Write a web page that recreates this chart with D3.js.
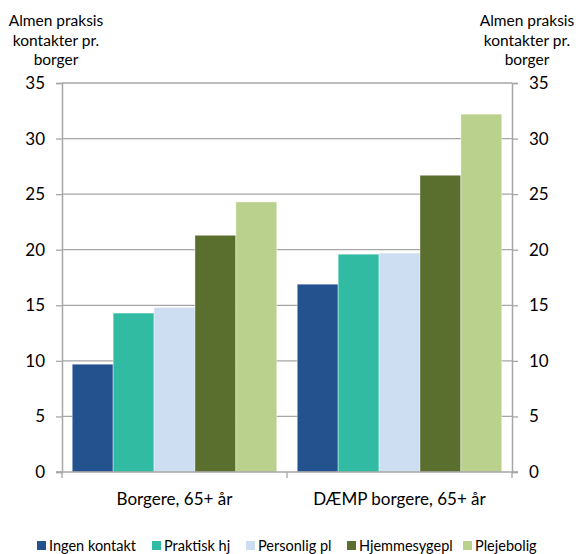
<!DOCTYPE html>
<html>
<head>
<meta charset="utf-8">
<script src="https://cdn.jsdelivr.net/npm/d3@7"></script>
<style>
  html, body { margin: 0; padding: 0; background: #fff; }
  svg { display: block; font-family: Lato, "Open Sans", sans-serif; }
</style>
</head>
<body>
<svg id="chart" width="576" height="554"></svg>
<script>
// Groups along the x axis
const categories = ["Borgere, 65+ år", "DÆMP borgere, 65+ år"];
// Series (one bar per group each)
const seriesNames = ["Ingen kontakt", "Praktisk hj", "Personlig pl", "Hjemmesygepl", "Plejebolig"];
const seriesColors = ["#24528E", "#31BBA3", "#CDDDF2", "#5A6E2E", "#BAD18D"];
// Contacts per citizen, indexed [series][category]
const ingenKontakt = [9.7, 16.9];
const praktiskHj = [14.3, 19.6];
const personligPl = [14.8, 19.7];
const hjemmesygepl = [21.3, 26.7];
const plejebolig = [24.3, 32.2];
const seriesValues = [ingenKontakt, praktiskHj, personligPl, hjemmesygepl, plejebolig];
const yTicks = [0, 5, 10, 15, 20, 25, 30, 35];
const axisTitle = ["Almen praksis", "kontakter pr.", "borger"];

const svg = d3.select("#chart");
const plot = { left: 62, right: 512, top: 83, bottom: 472 };

const x0 = d3.scaleBand().domain(categories).range([plot.left, plot.right]).padding(0);
const x1 = d3.scaleBand().domain(seriesNames)
  .range([0, x0.bandwidth()]).paddingInner(0).paddingOuter(0.25);
const y = d3.scaleLinear().domain([0, 35]).range([plot.bottom, plot.top]);

const gridColor = "#a6a6a6";

// Horizontal gridlines
svg.append("g").selectAll("line").data(yTicks.filter(t => t > 0)).join("line")
  .attr("x1", plot.left).attr("x2", plot.right)
  .attr("y1", d => y(d)).attr("y2", d => y(d))
  .attr("stroke", gridColor).attr("stroke-width", 1.3);

// Bars
const groups = svg.append("g").selectAll("g").data(categories).join("g")
  .attr("transform", d => `translate(${x0(d)},0)`);
groups.selectAll("rect")
  .data((c, ci) => seriesNames.map((s, si) => ({ s, si, v: seriesValues[si][ci] })))
  .join("rect")
  .attr("x", d => x1(d.s))
  .attr("width", x1.bandwidth())
  .attr("y", d => y(d.v))
  .attr("height", d => y(0) - y(d.v))
  .attr("fill", d => seriesColors[d.si])
  .attr("stroke", "rgba(255,255,255,0.5)")
  .attr("stroke-width", 0.8);

// Left and right value axes
const fontSize = 17;
const leftAxis = d3.axisLeft(y).tickValues(yTicks).tickSize(6).tickPadding(11);
const rightAxis = d3.axisRight(y).tickValues(yTicks).tickSize(6).tickPadding(11);
[[leftAxis, plot.left], [rightAxis, plot.right]].forEach(([ax, xp]) => {
  const g = svg.append("g").attr("transform", `translate(${xp},0)`).call(ax);
  g.select(".domain").attr("stroke", gridColor).attr("stroke-width", 1.5);
  g.selectAll(".tick line").attr("stroke", gridColor).attr("stroke-width", 1.3);
  g.selectAll(".tick text").attr("fill", "#000").style("font-size", fontSize + "px")
    .style("font-family", "Lato, 'Open Sans', sans-serif");
});

// Category axis
const xAxis = svg.append("g").attr("transform", `translate(0,${plot.bottom})`);
xAxis.append("line").attr("x1", plot.left - 6).attr("x2", plot.right + 6)
  .attr("stroke", gridColor).attr("stroke-width", 1.5);
xAxis.selectAll("line.sep").data([...categories.map(c => x0(c)), plot.right]).join("line")
  .attr("class", "sep")
  .attr("x1", d => d).attr("x2", d => d).attr("y1", 0).attr("y2", 6)
  .attr("stroke", gridColor).attr("stroke-width", 1.3);
xAxis.selectAll("text").data(categories).join("text")
  .attr("x", d => x0(d) + x0.bandwidth() / 2)
  .attr("y", 33)
  .attr("text-anchor", "middle")
  .style("font-size", "17px")
  .text(d => d);

// Axis titles on both sides
[56, 527].forEach(cx => {
  svg.append("text").attr("text-anchor", "middle").style("font-size", "15.5px")
    .selectAll("tspan").data(axisTitle).join("tspan")
    .attr("x", cx).attr("y", (d, i) => 26 + i * 19.5).text(d => d);
});

// Legend
const legendX = [37, 152, 246, 347, 463];
const legend = svg.append("g").selectAll("g").data(seriesNames).join("g")
  .attr("transform", (d, i) => `translate(${legendX[i]},541)`);
legend.append("rect").attr("width", 9).attr("height", 9)
  .attr("fill", (d, i) => seriesColors[i]);
legend.append("text").attr("x", 12).attr("y", 10)
  .style("font-size", "14.5px").text(d => d);
</script>
</body>
</html>
